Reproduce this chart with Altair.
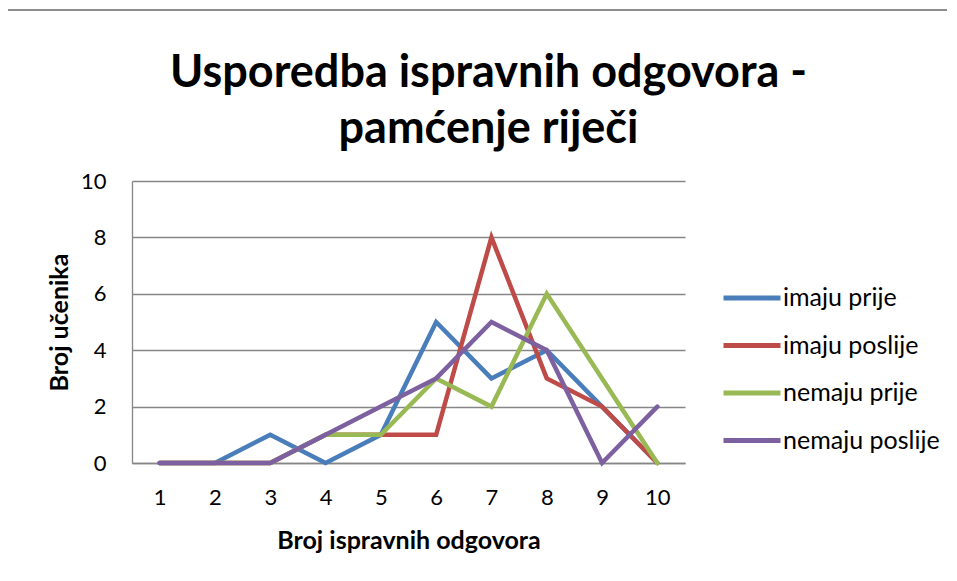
import altair as alt
import pandas as pd

categories = [1, 2, 3, 4, 5, 6, 7, 8, 9, 10]
imaju_prije = [0, 0, 1, 0, 1, 5, 3, 4, 2, 0]
imaju_poslije = [0, 0, 0, 1, 1, 1, 8, 3, 2, 0]
nemaju_prije = [0, 0, 0, 1, 1, 3, 2, 6, 3, 0]
nemaju_poslije = [0, 0, 0, 1, 2, 3, 5, 4, 0, 2]
series_names = ["imaju prije", "imaju poslije", "nemaju prije", "nemaju poslije"]
series_colors = ["#4A7EBB", "#BE4B48", "#98B954", "#7D60A0"]
y_ticks = [0, 2, 4, 6, 8, 10]

rows = []
for name, vals in zip(series_names, [imaju_prije, imaju_poslije, nemaju_prije, nemaju_poslije]):
    for c, v in zip(categories, vals):
        rows.append({"kat": str(c), "serija": name, "broj": v})
df = pd.DataFrame(rows)

FONT = "Lato"

lines = alt.Chart(df).mark_line(strokeWidth=4.5, strokeCap="round", strokeJoin="miter").encode(
    x=alt.X("kat:N", sort=[str(c) for c in categories],
            scale=alt.Scale(type="point", padding=0.5),
            axis=alt.Axis(title="Broj ispravnih odgovora", labelAngle=0, ticks=False,
                          domainColor="#868686", domainWidth=1.3, labelPadding=24,
                          titlePadding=20, grid=False)),
    y=alt.Y("broj:Q", scale=alt.Scale(domain=[0, 10], nice=False),
            axis=alt.Axis(title="Broj učenika", values=y_ticks, ticks=False,
                          domainColor="#868686", domainWidth=1.3, gridColor="#868686",
                          gridWidth=1.3, labelPadding=26, titlePadding=8)),
    color=alt.Color("serija:N", sort=series_names,
                    scale=alt.Scale(domain=series_names, range=series_colors),
                    legend=alt.Legend(title=None, orient="none", legendX=589, legendY=86,
                                      symbolType="stroke", symbolSize=3249,
                                      symbolStrokeWidth=5, rowPadding=3.5,
                                      labelOffset=0)),
)

frame = alt.Chart(pd.DataFrame({"a": [0]})).mark_rule(color="#8c8c8c", strokeWidth=2).encode(
    x=alt.value(-125), y=alt.value(-171), y2=alt.value(382)
) + alt.Chart(pd.DataFrame({"a": [0]})).mark_rule(color="#8c8c8c", strokeWidth=2).encode(
    x=alt.value(-125), x2=alt.value(815), y=alt.value(-171)
)

chart = (frame + lines).properties(
    width=553, height=282,
    padding={"left": 124, "top": 173, "right": 262, "bottom": 100},
    autosize=alt.AutoSizeParams(type="none"),
    title=alt.TitleParams(["Usporedba ispravnih odgovora -", "pamćenje riječi"],
                          font=FONT, fontSize=45, fontWeight="bold", color="#000000",
                          anchor="middle", frame="group", offset=0, dx=80, dy=143,
                          lineHeight=56),
).configure_view(stroke=None).configure_axis(
    labelFont=FONT, labelFontSize=22, labelColor="#000000",
    titleFont=FONT, titleFontSize=25, titleFontWeight="bold", titleColor="#000000",
).configure_legend(labelFont=FONT, labelFontSize=25, labelColor="#000000")

chart.save("out.html", embed_options={"renderer": "svg", "actions": False})
